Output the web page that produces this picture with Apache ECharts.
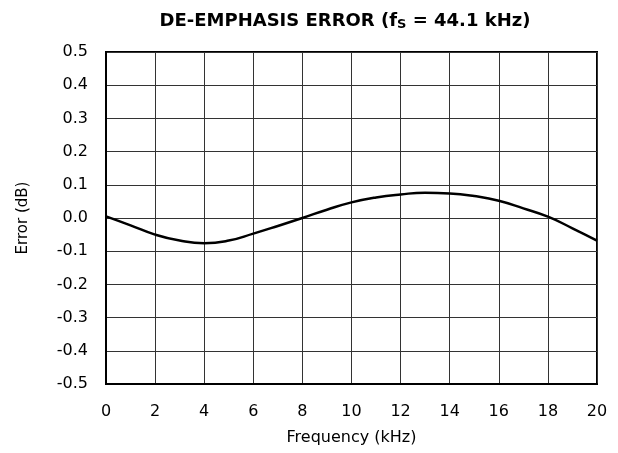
<!DOCTYPE html>
<html>
<head>
<meta charset="utf-8">
<script src="https://cdn.jsdelivr.net/npm/echarts@6/dist/echarts.min.js"></script>
<style>
  html, body { margin: 0; padding: 0; background: #fff; }
  #chart { width: 618px; height: 453px; }
</style>
</head>
<body>
<div id="chart"></div>
<script>
// frequency (kHz) and de-emphasis error (dB)
const freqKHz = [0, 1, 2, 3, 4, 5, 6, 7, 8, 9, 10, 11, 12, 13, 14, 15, 16, 17, 18, 19, 20];
const errorDb = [0.005, -0.022, -0.050, -0.068, -0.076, -0.068, -0.047, -0.024, 0.000, 0.025,
                 0.047, 0.062, 0.071, 0.076, 0.074, 0.066, 0.052, 0.029, 0.004, -0.031, -0.068];

const chart = echarts.init(document.getElementById('chart'));
const font = 'DejaVu Sans, sans-serif';

chart.setOption({
  animation: false,
  title: {
    text: '{t|DE-EMPHASIS ERROR (f}{s|S}{t| = 44.1 kHz)}',
    left: 340,
    textAlign: 'center',
    top: 6,
    textStyle: {
      rich: {
        t: { fontFamily: font, fontWeight: 'bold', fontSize: 18, color: '#000' },
        s: { fontFamily: font, fontWeight: 'bold', fontSize: 13, color: '#000', verticalAlign: 'bottom', padding: [7, 0, 0, 0] }
      }
    }
  },
  grid: {
    left: 106, right: 21, top: 52, bottom: 69,
    show: true, borderColor: '#000', borderWidth: 2
  },
  xAxis: {
    type: 'value', min: 0, max: 20, interval: 2,
    name: 'Frequency (kHz)', nameLocation: 'middle', nameGap: 46,
    nameTextStyle: { fontFamily: font, fontSize: 16, color: '#000' },
    axisLine: { show: true, onZero: false, lineStyle: { color: '#000', width: 2 } },
    axisTick: { show: false },
    axisLabel: { margin: 20, fontFamily: font, fontSize: 16, color: '#000' },
    splitLine: { show: true, lineStyle: { color: '#333', width: 1 } }
  },
  yAxis: {
    type: 'value', min: -0.5, max: 0.5, interval: 0.1,
    name: 'Error (dB)', nameLocation: 'middle', nameGap: 75, nameRotate: 90,
    nameTextStyle: { fontFamily: font, fontSize: 15, color: '#000' },
    axisLine: { show: true, onZero: false, lineStyle: { color: '#000', width: 2 } },
    axisTick: { show: false },
    axisLabel: {
      margin: 18, fontFamily: font, fontSize: 16, color: '#000',
      formatter: v => v.toFixed(1)
    },
    splitLine: { show: true, lineStyle: { color: '#333', width: 1 } }
  },
  series: [{
    type: 'line',
    data: freqKHz.map((f, i) => [f, errorDb[i]]),
    smooth: true,
    showSymbol: false,
    lineStyle: { color: '#000', width: 2.5 }
  }]
});
</script>
</body>
</html>
